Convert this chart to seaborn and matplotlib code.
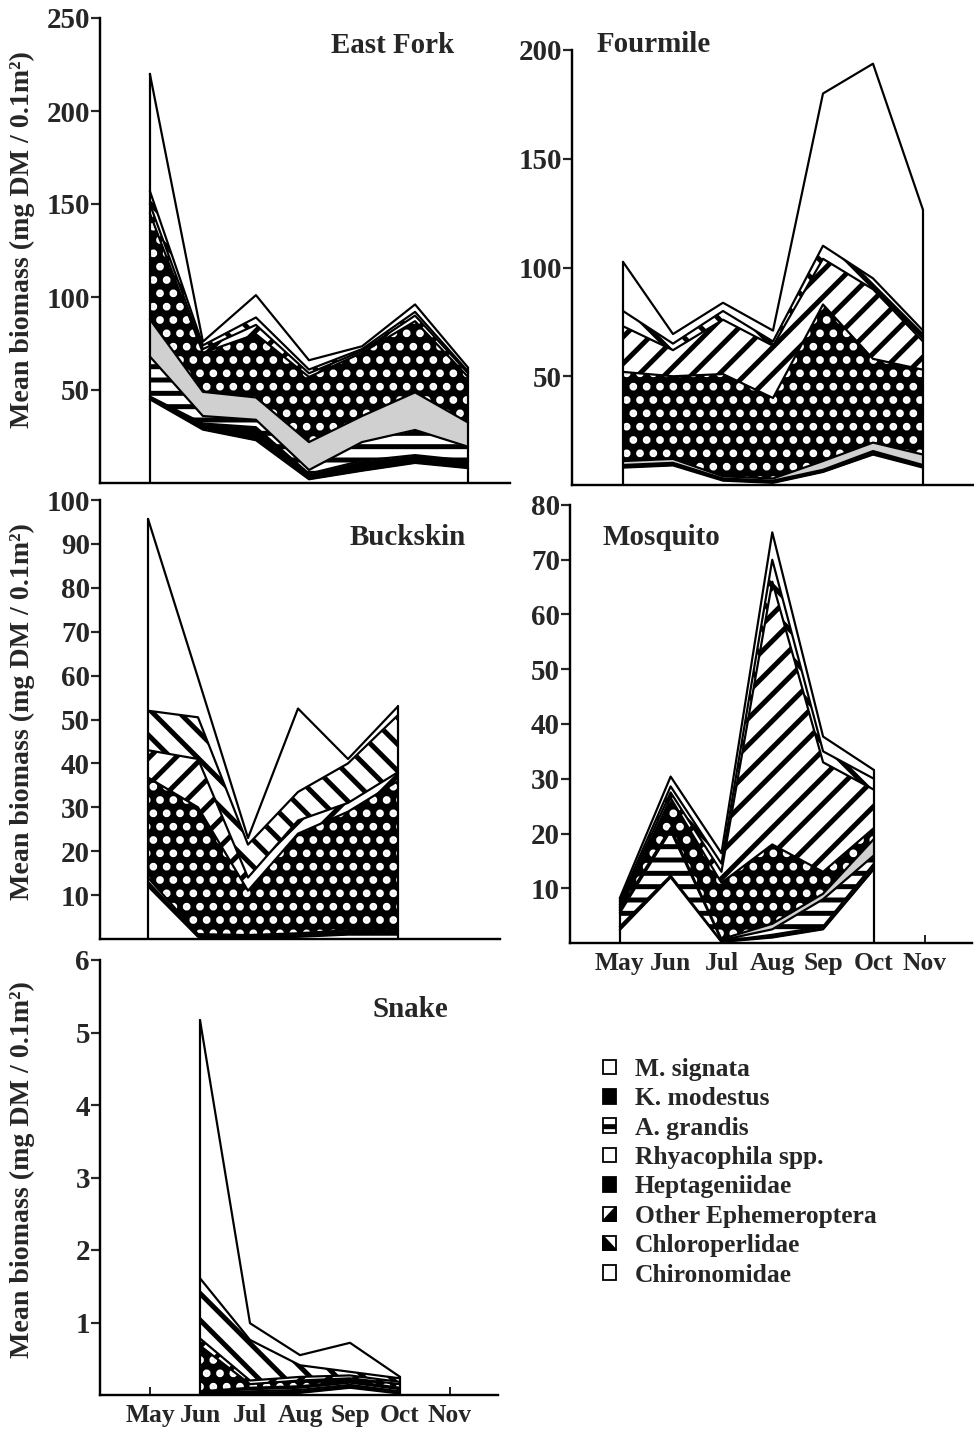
import numpy as np
import matplotlib
matplotlib.use("Agg")
import matplotlib.pyplot as plt
import seaborn as sns
from matplotlib.patches import Patch, Polygon
from matplotlib.legend_handler import HandlerPatch, HandlerTuple

# ---------------- data (mg DM / 0.1 m2) ----------------
MONTHS = ["May", "Jun", "Jul", "Aug", "Sep", "Oct", "Nov"]
TAXA = ["M. signata", "K. modestus", "A. grandis", "Rhyacophila spp.",
        "Heptageniidae", "Other Ephemeroptera", "Chloroperlidae", "Chironomidae"]

EAST_FORK_MONTHS = ["May", "Jun", "Jul", "Aug", "Sep", "Oct", "Nov"]
EAST_FORK = {
    "M. signata":          [45, 28.7, 23, 2, 6.6, 10.8, 8],
    "K. modestus":         [1.5, 3.3, 7, 3, 5.4, 4.2, 4],
    "A. grandis":          [21.5, 4, 4, 2, 10, 13.5, 7.5],
    "Rhyacophila spp.":    [20, 13, 12, 15, 14, 20.2, 13],
    "Heptageniidae":       [57, 21, 34, 35, 34, 38.3, 24.5],
    "Other Ephemeroptera": [5, 2, 5, 2, 1, 3, 2],
    "Chloroperlidae":      [7, 2, 4, 2, 1, 2, 1],
    "Chironomidae":        [63, 2, 12, 5, 1.5, 4, 2],
}

FOURMILE_MONTHS = ["May", "Jun", "Jul", "Aug", "Sep", "Oct", "Nov"]
FOURMILE = {
    "M. signata":          [8, 9, 2, 1, 6, 14, 8],
    "K. modestus":         [0.7, 0.7, 0.5, 0.5, 0.5, 1, 0.7],
    "A. grandis":          [0.5, 0.5, 0.5, 0.5, 0.5, 0.6, 0.5],
    "Rhyacophila spp.":    [1.8, 1.8, 1, 1, 4, 3.9, 4.8],
    "Heptageniidae":       [41, 38, 47, 37, 72, 38.5, 39],
    "Other Ephemeroptera": [21, 12, 25, 24, 21, 32, 13],
    "Chloroperlidae":      [7, 3, 4, 2, 6, 5, 5],
    "Chironomidae":        [22.6, 4.4, 3.8, 5, 70, 98.7, 55.5],
}

BUCKSKIN_MONTHS = ["May", "Jun", "Jul", "Aug", "Sep", "Oct"]
BUCKSKIN = {
    "M. signata":          [12, 0.5, 0.3, 0.5, 1, 1],
    "K. modestus":         [0.5, 0.2, 0.2, 0.3, 0.3, 0.3],
    "A. grandis":          [0.5, 0.2, 0.2, 0.2, 0.3, 0.3],
    "Rhyacophila spp.":    [1, 0.2, 0.2, 0.3, 0.4, 0.4],
    "Heptageniidae":       [22.8, 28.9, 10.1, 22.7, 27, 34],
    "Other Ephemeroptera": [6.2, 11, 3, 3, 2, 2],
    "Chloroperlidae":      [9, 9.5, 7.5, 6.5, 9, 13],
    "Chironomidae":        [43.7, 9, 1.5, 19, 1, 2],
}

MOSQUITO_MONTHS = ["May", "Jun", "Jul", "Aug", "Sep", "Oct"]
MOSQUITO = {
    "M. signata":          [2.4, 12, 0.2, 1, 2.5, 13.5],
    "K. modestus":         [0.6, 0.3, 0.1, 0.5, 0.5, 1],
    "A. grandis":          [2.5, 8.2, 0.2, 1, 5, 1.5],
    "Rhyacophila spp.":    [0.5, 0.5, 0.2, 1, 1, 3],
    "Heptageniidae":       [0.5, 5.5, 10.3, 14.5, 4, 2],
    "Other Ephemeroptera": [0.5, 1, 2, 48, 20, 7],
    "Chloroperlidae":      [0.6, 1.1, 1.5, 4, 2, 2],
    "Chironomidae":        [0.6, 1.8, 1.9, 5, 2.7, 1.6],
}

SNAKE_MONTHS = ["Jun", "Jul", "Aug", "Sep", "Oct"]
SNAKE = {
    "M. signata":          [0.02, 0.02, 0.03, 0.10, 0.02],
    "K. modestus":         [0.01, 0.03, 0.04, 0.04, 0.03],
    "A. grandis":          [0.01, 0.03, 0.03, 0.03, 0.03],
    "Rhyacophila spp.":    [0.01, 0.02, 0.02, 0.02, 0.02],
    "Heptageniidae":       [0.63, 0.05, 0.08, 0.04, 0.05],
    "Other Ephemeroptera": [0.10, 0.05, 0.05, 0.04, 0.03],
    "Chloroperlidae":      [0.83, 0.56, 0.16, 0.05, 0.05],
    "Chironomidae":        [3.56, 0.23, 0.14, 0.40, 0.02],
}

YLABEL = "Mean biomass (mg DM / 0.1m²)"

# ---------------- style ----------------
DPI = 80
W, H = 974, 1441
def px(v):  # pixels -> points
    return v * 72.0 / DPI

sns.set_theme(style="white")
plt.rcParams["font.family"] = ["Liberation Serif", "DejaVu Serif"]
plt.rcParams["font.weight"] = "bold"
plt.rcParams["hatch.linewidth"] = px(5.0)
plt.rcParams["axes.linewidth"] = px(2.4)

STYLE = {
    "M. signata":          dict(face="white", hc="black", hatch=None),
    "K. modestus":         dict(face="black", hc="black", hatch=None),
    "A. grandis":          dict(face="white", hc="black", hatch="-"),
    "Rhyacophila spp.":    dict(face="#d0d0d0", hc="black", hatch=None),
    "Heptageniidae":       dict(face="black", hc="white", hatch="."),
    "Other Ephemeroptera": dict(face="white", hc="black", hatch="/"),
    "Chloroperlidae":      dict(face="white", hc="black", hatch="\\"),
    "Chironomidae":        dict(face="white", hc="black", hatch=None),
}

fig = plt.figure(figsize=(W / DPI, H / DPI), dpi=DPI)

def add_axes(left, right, top, bottom):
    return fig.add_axes([left / W, 1 - bottom / H, (right - left) / W, (bottom - top) / H])

TICK_FS = px(29)

def draw(ax, months, data, xlim, ylim, yticks, xlabels):
    x = np.array([MONTHS.index(m) for m in months], dtype=float)
    base = np.zeros(len(x))
    for t in TAXA:
        top = base + np.asarray(data[t], dtype=float)
        st = STYLE[t]
        kw = dict(facecolor=st["face"], edgecolor=st["hc"], linewidth=0)
        if st["hatch"]:
            kw["hatch"] = st["hatch"]
        ax.fill_between(x, base, top, **kw)
        sns.lineplot(x=x, y=top, ax=ax, color="black", linewidth=px(2.2),
                     sort=False, estimator=None)
        base = top
    # outer vertical edges of the stack
    ax.plot([x[0], x[0]], [0, base[0]], color="black", lw=px(2.2))
    ax.plot([x[-1], x[-1]], [0, base[-1]], color="black", lw=px(2.2))

    ax.set_xlim(*xlim)
    ax.set_ylim(*ylim)
    ax.set_yticks(yticks)
    ax.set_yticklabels([str(v) for v in yticks], fontsize=TICK_FS, fontweight="bold")
    ax.tick_params(axis="y", direction="out", length=px(9), width=px(2.2), pad=px(1),
                   left=True)
    for s in ["top", "right"]:
        ax.spines[s].set_visible(False)
    for s in ["left", "bottom"]:
        ax.spines[s].set_color("black")
    if xlabels:
        ax.set_xticks(range(len(MONTHS)))
        ax.set_xticklabels(MONTHS, fontsize=px(25.5), fontweight="bold")
        ax.tick_params(axis="x", direction="in", length=px(8), width=px(2), pad=px(9),
                       bottom=True)
    else:
        ax.set_xticks([])
    ax.set_xlabel("")
    ax.set_ylabel("")
    ax.grid(False)

ax_ef = add_axes(100, 510, 18, 483)
draw(ax_ef, EAST_FORK_MONTHS, EAST_FORK, (-0.94, 6.79), (0, 250), [50, 100, 150, 200, 250], False)

ax_fm = add_axes(572, 974, 50, 485)
draw(ax_fm, FOURMILE_MONTHS, FOURMILE, (-1.02, 7.02), (0, 200), [50, 100, 150, 200], False)

ax_bk = add_axes(100, 500, 500, 939)
draw(ax_bk, BUCKSKIN_MONTHS, BUCKSKIN, (-0.96, 7.04), (0, 100), list(range(10, 101, 10)), False)

ax_mq = add_axes(570, 972, 505, 943)
draw(ax_mq, MOSQUITO_MONTHS, MOSQUITO, (-0.98, 6.93), (0, 80), list(range(10, 81, 10)), True)

ax_sn = add_axes(100, 498, 960, 1395)
draw(ax_sn, SNAKE_MONTHS, SNAKE, (-1.0, 6.96), (0, 6), [1, 2, 3, 4, 5, 6], True)

# panel titles
TITLE_FS = px(29)
for name, cx, base_y in [("East Fork", 393, 53), ("Fourmile", 654, 52), ("Buckskin", 408, 545),
                         ("Mosquito", 661, 545), ("Snake", 410, 1017)]:
    fig.text(cx / W, 1 - base_y / H, name, ha="center", va="baseline",
             fontsize=TITLE_FS, fontweight="bold")

# y labels
for cy in [240, 712, 1170]:
    fig.text(22 / W, 1 - cy / H, YLABEL, rotation=90, ha="center", va="center",
             fontsize=px(28), fontweight="bold")

# ---------------- legend (small square icons) ----------------
def tri_lower_right(legend, orig_handle, xdescent, ydescent, width, height, fontsize):
    x0, y0 = -xdescent, -ydescent
    return Polygon([[x0, y0], [x0 + width, y0], [x0 + width, y0 + height]], closed=True)

def tri_lower_left(legend, orig_handle, xdescent, ydescent, width, height, fontsize):
    x0, y0 = -xdescent, -ydescent
    return Polygon([[x0, y0 + height], [x0, y0], [x0 + width, y0]], closed=True)

lw_icon = px(1.8)
def box(face="white", hatch=None):
    return Patch(facecolor=face, edgecolor="black", hatch=hatch, linewidth=lw_icon)

tri_oe = Patch(facecolor="black", edgecolor="black", linewidth=lw_icon)
tri_ch = Patch(facecolor="black", edgecolor="black", linewidth=lw_icon)

handles = [
    box(),                       # M. signata
    box("black"),                # K. modestus
    box("white", "-"),           # A. grandis
    box(),                       # Rhyacophila spp.
    box("black"),                # Heptageniidae
    (box(), tri_oe),             # Other Ephemeroptera
    (box(), tri_ch),             # Chloroperlidae
    box(),                       # Chironomidae
]
handler_map = {
    tri_oe: HandlerPatch(patch_func=tri_lower_right),
    tri_ch: HandlerPatch(patch_func=tri_lower_left),
    tuple: HandlerTuple(ndivide=1, pad=0),
}
fig.legend(handles, TAXA, handler_map=handler_map, loc="upper left",
           bbox_to_anchor=(603 / W, 1 - 1058 / H),
           frameon=False, borderpad=0, borderaxespad=0, handlelength=0.5,
           handleheight=0.5, handletextpad=0.75, labelspacing=0.25,
           prop=dict(family=["Liberation Serif", "DejaVu Serif"], weight="bold", size=px(25.5)))

fig.savefig("out.png", dpi=DPI)
